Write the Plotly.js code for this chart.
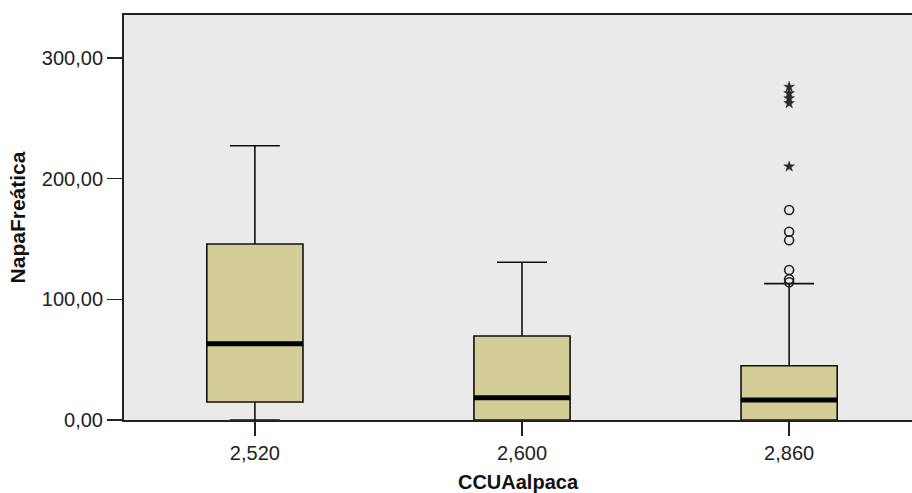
<!DOCTYPE html>
<html>
<head>
<meta charset="utf-8">
<script src="https://cdn.plot.ly/plotly-3.0.1.min.js"></script>
<style>
  html, body { margin: 0; padding: 0; background: #ffffff; overflow: hidden; }
  #chart { width: 912px; height: 493px; }
</style>
</head>
<body>
<div id="chart"></div>
<script>
// ---- data ----
const categories = ['2,520', '2,600', '2,860'];
const q1Values = [14.9, 0, 0];
const medianValues = [63.2, 18.5, 16.6];
const q3Values = [145.8, 69.6, 45.0];
const lowerWhisker = [0, 0, 0];
const upperWhisker = [227.3, 130.7, 113.0];

// outliers (circles) and extremes (stars) of group 2,860
const outlierCategory = '2,860';
const outlierValues = [114.1, 116.6, 124.3, 149.0, 156.0, 174.0];
const extremeValues = [210.0, 262.4, 266.5, 270.7, 276.0];

const yTickValues = [0, 100, 200, 300];

const boxFill = '#d3ce98';
const lineCol = '#111111';

const traces = [
  {
    type: 'box',
    x: categories,
    q1: q1Values,
    median: medianValues,
    q3: q3Values,
    lowerfence: lowerWhisker,
    upperfence: upperWhisker,
    boxpoints: false,
    width: 0.36,
    whiskerwidth: 0.52,
    fillcolor: boxFill,
    line: { color: lineCol, width: 1.6 },
    hoverinfo: 'skip',
    showlegend: false
  },
  {
    // thick median bar: a zero-height box sitting on the median
    type: 'box',
    x: categories,
    q1: medianValues,
    median: medianValues,
    q3: medianValues,
    lowerfence: medianValues,
    upperfence: medianValues,
    boxpoints: false,
    width: 0.36,
    whiskerwidth: 0,
    fillcolor: '#000000',
    line: { color: '#000000', width: 5 },
    hoverinfo: 'skip',
    showlegend: false
  },
  {
    type: 'scatter',
    mode: 'markers',
    x: outlierValues.map(() => outlierCategory),
    y: outlierValues,
    marker: { symbol: 'circle-open', size: 9, color: '#222222', line: { width: 1.6, color: '#222222' } },
    hoverinfo: 'skip',
    showlegend: false,
    cliponaxis: false
  },
  {
    type: 'scatter',
    mode: 'markers',
    x: extremeValues.map(() => outlierCategory),
    y: extremeValues,
    marker: { symbol: 'star', size: 8, color: '#2a2a2a', line: { width: 0.5, color: '#2a2a2a' } },
    hoverinfo: 'skip',
    showlegend: false,
    cliponaxis: false
  }
];

const layout = {
  width: 912,
  height: 493,
  margin: { l: 124, r: 0, t: 15, b: 73 },
  paper_bgcolor: '#ffffff',
  plot_bgcolor: '#eaeaea',
  separators: ',.',
  showlegend: false,
  boxmode: 'overlay',
  font: { family: 'Arial, "Liberation Sans", sans-serif', color: '#222222' },
  xaxis: {
    type: 'category',
    categoryorder: 'array',
    categoryarray: categories,
    range: [-0.49, 2.46],
    showline: true,
    linecolor: '#222222',
    linewidth: 2,
    mirror: true,
    ticks: 'outside',
    ticklen: 14,
    tickwidth: 1.5,
    tickcolor: '#222222',
    tickfont: { size: 20, color: '#222222' },
    showgrid: false,
    zeroline: false,
    title: {
      text: 'CCUAalpaca',
      font: { size: 20, color: '#111111', family: 'Arial, "Liberation Sans", sans-serif', weight: 'bold' },
      standoff: 12
    }
  },
  yaxis: {
    range: [0, 335.6],
    tickvals: yTickValues,
    tickformat: '.2f',
    showline: true,
    linecolor: '#222222',
    linewidth: 2,
    ticks: 'outside',
    ticklen: 15,
    tickwidth: 1.5,
    tickcolor: '#222222',
    tickfont: { size: 20, color: '#222222' },
    showgrid: false,
    zeroline: false,
    title: {
      text: 'NapaFreática',
      font: { size: 21, color: '#111111', family: 'Arial, "Liberation Sans", sans-serif', weight: 'bold' },
      standoff: 10
    }
  }
};

Plotly.newPlot('chart', traces, layout, { displayModeBar: false, staticPlot: true });
</script>
</body>
</html>
